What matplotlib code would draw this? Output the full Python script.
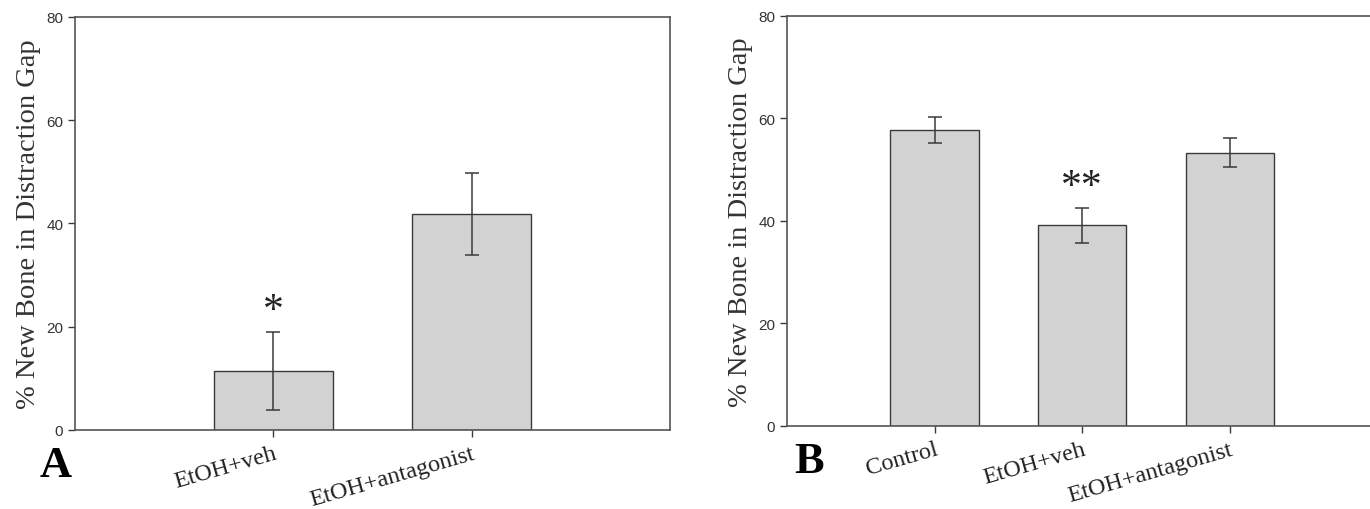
'''
Bar charts of new bone in distraction gap, panels A and B
'''
import matplotlib
matplotlib.use('Agg')
import matplotlib.pyplot as plt

# --------------------------------
groups_a = ['EtOH+veh', 'EtOH+antagonist']
means_a  = [11.4, 41.8]
errs_a   = [7.6, 8.0]
stars_a  = ['*', '']

groups_b = ['Control', 'EtOH+veh', 'EtOH+antagonist']
means_b  = [57.7, 39.1, 53.3]
errs_b   = [2.6, 3.5, 2.8]
stars_b  = ['', '**', '']

yticks   = [0, 20, 40, 60, 80]
# --------------------------------
SERIF = ['Liberation Serif', 'DejaVu Serif']
SANS  = ['Liberation Sans', 'DejaVu Sans']
BAR   = '#d2d2d2'
EDGE  = '#3a3a3a'
# --------------------------------
def _panel(ax, groups, means, errs, stars, xmax, letter, lx):
    pos = list(range(1, len(groups) + 1))
    ax.bar(pos, means, width=0.6, color=BAR, edgecolor=EDGE, linewidth=1.0, zorder=2)
    ax.errorbar(pos, means, yerr=errs, fmt='none', ecolor=EDGE, elinewidth=1.1,
                capsize=5, capthick=1.1, zorder=3)
    for p, m, e, s in zip(pos, means, errs, stars):
        if s:
            ax.text(p, m + e + 0.3, s, ha='center', va='bottom', fontsize=30,
                    family=SERIF, color='#222222')

    ax.set_xlim(0, xmax)
    ax.set_ylim(0, 80)
    ax.set_yticks(yticks)
    ax.set_yticklabels([str(t) for t in yticks], family=SANS, fontsize=11,
                       color='#333333')
    ax.set_xticks(pos)
    ax.set_xticklabels(groups, rotation=16, ha='right', rotation_mode='anchor',
                       family=SERIF, fontsize=17.5, color='#222222')
    ax.tick_params(axis='both', direction='out', length=5, width=1, color=EDGE)
    ax.tick_params(axis='x', pad=4)
    ax.set_ylabel('% New Bone in Distraction Gap', family=SERIF, fontsize=20.5,
                  color='#333333', labelpad=4)
    for sp in ax.spines.values():
        sp.set_color('#555555')
        sp.set_linewidth(1.2)
    ax.text(lx, -0.085, letter, transform=ax.transAxes, family=SERIF,
            fontsize=32, fontweight='bold', ha='left', va='center')
# --------------------------------
def main():
    fig = plt.figure(figsize=(13.7, 5.1), dpi=100)
    ax_a = fig.add_axes([0.0547, 0.155, 0.4343, 0.810])
    ax_b = fig.add_axes([0.5745, 0.163, 0.4255, 0.804])

    _panel(ax_a, groups_a, means_a, errs_a, stars_a, 3.0, 'A', -0.06)
    _panel(ax_b, groups_b, means_b, errs_b, stars_b, 3.95, 'B', 0.013)
    ax_b.spines['right'].set_visible(False)

    fig.savefig('out.png', dpi=100)
    plt.close(fig)
# --------------------------------
if __name__ == '__main__':
    main()
